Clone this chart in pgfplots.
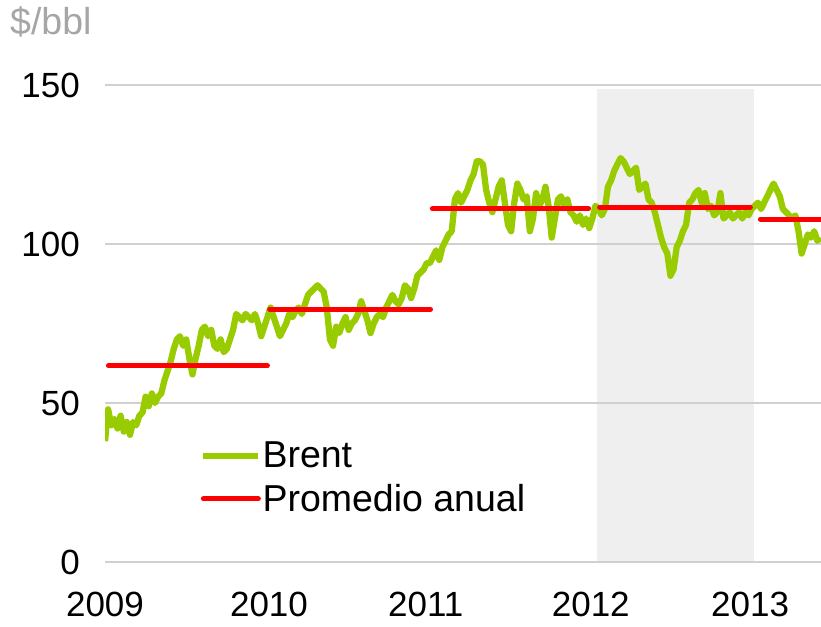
\documentclass[border=0pt]{standalone}
\usepackage{fontspec}
\setmainfont{Liberation Sans}
\usepackage{pgfplots}
\pgfplotsset{compat=1.18}
\definecolor{brent}{HTML}{99CC00}
\definecolor{avg}{HTML}{FF0000}
\definecolor{gridc}{HTML}{D0D0D0}
\definecolor{shade}{HTML}{EFEFEF}
\definecolor{unitc}{HTML}{A6A6A6}
\newcommand{\tickfont}{\fontsize{35}{42}\selectfont}
\newcommand{\bigfont}{\fontsize{37.5}{44}\selectfont}
\begin{document}
\begin{tikzpicture}
\begin{axis}[
  set layers,
  scale only axis, width=716pt, height=477pt,
  xmin=0, xmax=229.2, ymin=0, ymax=150,
  axis line style={draw=none},
  major tick length=0pt,
  ytick={0,50,100,150},
  xtick={0,52.5,102.7,155.5,206.5},
  xticklabels={2009,2010,2011,2012,2013},
  ymajorgrids,
  grid style={gridc, line width=2.5pt},
  /pgf/number format/assume math mode=true,
  ticklabel style={font=\tickfont, inner sep=0pt},
  yticklabel style={anchor=east, xshift=-25pt},
  xticklabel style={anchor=north, yshift=-30pt},
  legend style={draw=none, fill=none, at={(0.1327,0.177)}, anchor=west,
    inner sep=0pt, font=\bigfont, row sep=15pt, column sep=1pt,
    nodes={inner sep=0pt}},
  legend cell align=left,
  legend image code/.code={\draw[#1] (0pt,0pt) -- (55pt,0pt);},
]
\addplot[fill=shade, draw=none, forget plot, on layer=axis background]
  coordinates {(157.5,0) (157.5,148.7) (207.7,148.7) (207.7,0)} \closedcycle;
\addplot[brent, line width=6.3pt, line join=round] table {
w p
0 38
1 48
2 43
3 45
4 42
5 46
6 41
7 44
8 40
9 44
10 43
11 46
12 47
13 52
14 49
15 53
16 50
17 52
18 53
19 57
20 60
21 63
22 67
23 70
24 71
25 68
26 70
27 64
28 59
29 64
30 68
31 73
32 74
33 71
34 73
35 68
36 67
37 70
38 66
39 67
40 70
41 73
42 78
43 77
44 76
45 78
46 77
47 76
48 78
49 75
50 71
51 74
52 77
53 80
54 77
55 74
56 71
57 73
58 75
59 78
60 77
61 79
62 80
63 78
64 81
65 84
66 85
67 86
68 87
69 86
70 85
71 80
72 70
73 68
74 74
75 72
76 75
77 77
78 73
79 75
80 76
81 78
82 82
83 79
84 76
85 72
86 75
87 77
88 78
89 77
90 80
91 82
92 84
93 82
94 81
95 83
96 87
97 86
98 83
99 86
100 90
101 91
102 92
103 94
104 94
105 96
106 98
107 95
108 99
109 101
110 103
111 104
112 114
113 116
114 113
115 115
116 117
117 120
118 122
119 126
120 126
121 125
122 117
123 113
124 110
125 114
126 118
127 120
128 113
129 106
130 104
131 113
132 119
133 117
134 114
135 115
136 104
137 108
138 116
139 112
140 114
141 118
142 112
143 102
144 108
145 114
146 115
147 112
148 114
149 110
150 109
151 107
152 109
153 106
154 108
155 105
156 108
157 112
158 111
159 109
160 111
161 118
162 120
163 123
164 125
165 127
166 126
167 124
168 122
169 123
170 124
171 117
172 118
173 119
174 114
175 113
176 110
177 106
178 102
179 99
180 97
181 90
182 92
183 99
184 101
185 104
186 106
187 113
188 114
189 116
190 117
191 113
192 116
193 111
194 112
195 109
196 110
197 116
198 108
199 109
200 110
201 108
202 109
203 110
204 108
205 110
206 109
207 111
208 112
209 113
210 111
211 113
212 115
213 117
214 119
215 117
216 115
217 111
218 110
219 109
220 108
221 109
222 104
223 97
224 100
225 103
226 102
227 104
228 101
229 102
};
\addlegendentry{Brent}
\addplot[avg, line width=5pt, line cap=round] coordinates {(1.1,61.7) (52.0,61.7)};
\addlegendentry{Promedio anual}
\addplot[avg, line width=5pt, line cap=round, forget plot] coordinates {(52.7,79.5) (104.2,79.5)};
\addplot[avg, line width=5pt, line cap=round, forget plot] coordinates {(104.8,111.1) (154.8,111.1)};
\addplot[avg, line width=5pt, line cap=round, forget plot] coordinates {(158.3,111.6) (206.6,111.6)};
\addplot[avg, line width=5pt, line cap=round, forget plot] coordinates {(209.8,107.8) (231,107.8)};
\end{axis}
\node[anchor=west, text=unitc, font=\bigfont, inner sep=0pt] at (-95pt,540pt) {\$/bbl};
\pgfresetboundingbox
\useasboundingbox (-105pt,-64pt) rectangle (716pt,562pt);
\end{tikzpicture}
\end{document}
